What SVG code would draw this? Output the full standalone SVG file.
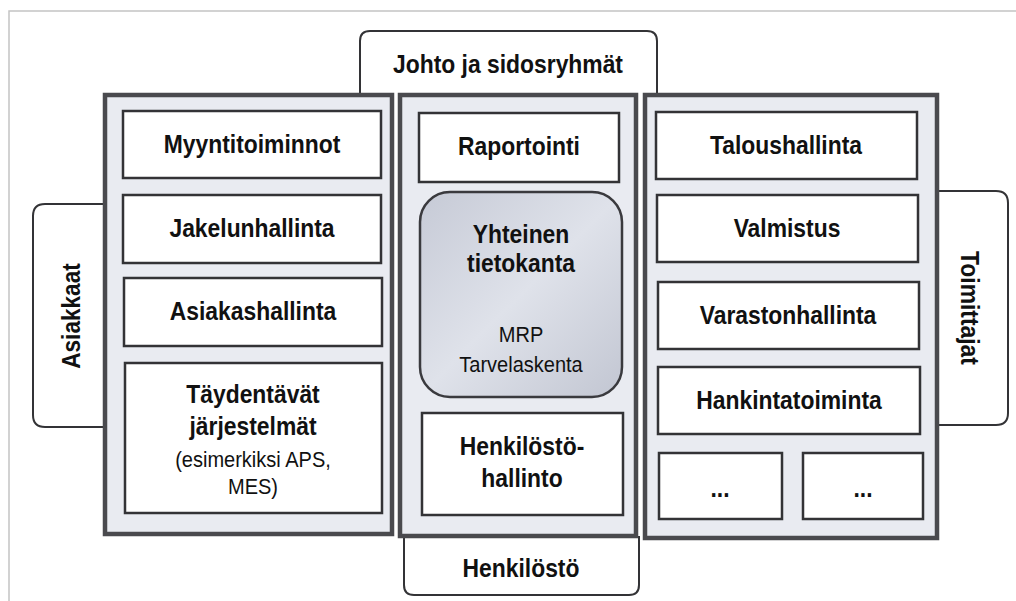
<svg xmlns="http://www.w3.org/2000/svg" width="1016" height="601" viewBox="0 0 1016 601">
<defs>
<linearGradient id="db" x1="0" y1="0" x2="1" y2="1">
<stop offset="0" stop-color="#c6cad6"/>
<stop offset="0.5" stop-color="#dfe2ea"/>
<stop offset="1" stop-color="#c2c6d2"/>
</linearGradient>
</defs>
<style>
.bg{fill:#ffffff}
.edge{stroke:#c4c4c4;stroke-width:1.5;fill:none}
.panel{fill:#e9ebf1;stroke:#4a4a4e;stroke-width:4.5}
.box{fill:#ffffff;stroke:#333336;stroke-width:2.5}
.tab{fill:#ffffff;stroke:#333336;stroke-width:2}
.db{fill:url(#db);stroke:#3a3a3e;stroke-width:2.5}
.t{font-family:"Liberation Sans",Arial,sans-serif;font-weight:bold;font-size:26px;fill:#111;text-anchor:middle}
.r{font-family:"Liberation Sans",Arial,sans-serif;font-size:22px;fill:#111;text-anchor:middle}
</style>
<rect class="bg" x="0" y="0" width="1016" height="601"/>
<path class="edge" d="M9 601 V11 H1016"/>

<g id="tab-johto">
<path class="tab" d="M360 93 V41 Q360 31 370 31 H647 Q657 31 657 41 V93"/>
<text class="t" transform="translate(508 73) scale(.88 1)">Johto ja sidosryhmät</text>
</g>
<g id="tab-henkilosto">
<path class="tab" d="M404 536 V585 Q404 595 414 595 H629 Q639 595 639 585 V536"/>
<text class="t" transform="translate(521 577) scale(.88 1)">Henkilöstö</text>
</g>
<g id="tab-asiakkaat">
<path class="tab" d="M103 204 H45 Q33 204 33 216 V415 Q33 427 45 427 H103"/>
<text class="t" transform="translate(80 316) rotate(-90) scale(.87 1)">Asiakkaat</text>
</g>
<g id="tab-toimittajat">
<path class="tab" d="M937 191 H996 Q1008 191 1008 203 V413 Q1008 425 996 425 H937"/>
<text class="t" transform="translate(961 308) rotate(90) scale(.88 1)">Toimittajat</text>
</g>

<g id="panel-left"><rect class="panel" x="105" y="95" width="287" height="439"/></g>
<g id="panel-middle"><rect class="panel" x="400" y="95" width="236" height="441"/></g>
<g id="panel-right"><rect class="panel" x="645" y="95" width="292" height="443"/></g>

<g id="myyntitoiminnot"><rect class="box" x="123" y="111" width="258" height="67"/><text class="t" transform="translate(252 153) scale(.88 1)">Myyntitoiminnot</text></g>
<g id="jakelunhallinta"><rect class="box" x="123" y="195" width="258" height="68"/><text class="t" transform="translate(252 237) scale(.88 1)">Jakelunhallinta</text></g>
<g id="asiakashallinta"><rect class="box" x="124" y="278" width="258" height="68"/><text class="t" transform="translate(253 320) scale(.88 1)">Asiakashallinta</text></g>
<g id="taydentavat"><rect class="box" x="125" y="363" width="257" height="150"/>
<text class="t" transform="translate(253 403) scale(.88 1)">Täydentävät</text>
<text class="t" transform="translate(253 435) scale(.88 1)">järjestelmät</text>
<text class="r" transform="translate(253 467) scale(.91 1)">(esimerkiksi APS,</text>
<text class="r" transform="translate(253 494) scale(.91 1)">MES)</text></g>

<g id="raportointi"><rect class="box" x="419" y="113" width="200" height="69"/><text class="t" transform="translate(519 155) scale(.88 1)">Raportointi</text></g>
<g id="tietokanta"><rect class="db" x="420" y="192" width="202" height="205" rx="30" ry="30"/>
<text class="t" transform="translate(521 243) scale(.88 1)">Yhteinen</text>
<text class="t" transform="translate(521 272) scale(.88 1)">tietokanta</text>
<text class="r" transform="translate(521 342) scale(.91 1)">MRP</text>
<text class="r" transform="translate(521 372) scale(.91 1)">Tarvelaskenta</text></g>
<g id="henkilostohallinto"><rect class="box" x="422" y="413" width="201" height="102"/>
<text class="t" transform="translate(522 455) scale(.88 1)">Henkilöstö-</text>
<text class="t" transform="translate(522 487) scale(.88 1)">hallinto</text></g>

<g id="taloushallinta"><rect class="box" x="656" y="112" width="261" height="67"/><text class="t" transform="translate(786 154) scale(.88 1)">Taloushallinta</text></g>
<g id="valmistus"><rect class="box" x="657" y="195" width="261" height="67"/><text class="t" transform="translate(787 237) scale(.88 1)">Valmistus</text></g>
<g id="varastonhallinta"><rect class="box" x="658" y="282" width="261" height="67"/><text class="t" transform="translate(788 324) scale(.88 1)">Varastonhallinta</text></g>
<g id="hankintatoiminta"><rect class="box" x="658" y="367" width="262" height="67"/><text class="t" transform="translate(789 409) scale(.88 1)">Hankintatoiminta</text></g>
<g id="muu1"><rect class="box" x="659" y="453" width="123" height="66"/><text class="t" transform="translate(720 497) scale(.88 1)">...</text></g>
<g id="muu2"><rect class="box" x="803" y="453" width="120" height="66"/><text class="t" transform="translate(863 497) scale(.88 1)">...</text></g>

<g id="connectors"></g>
</svg>
